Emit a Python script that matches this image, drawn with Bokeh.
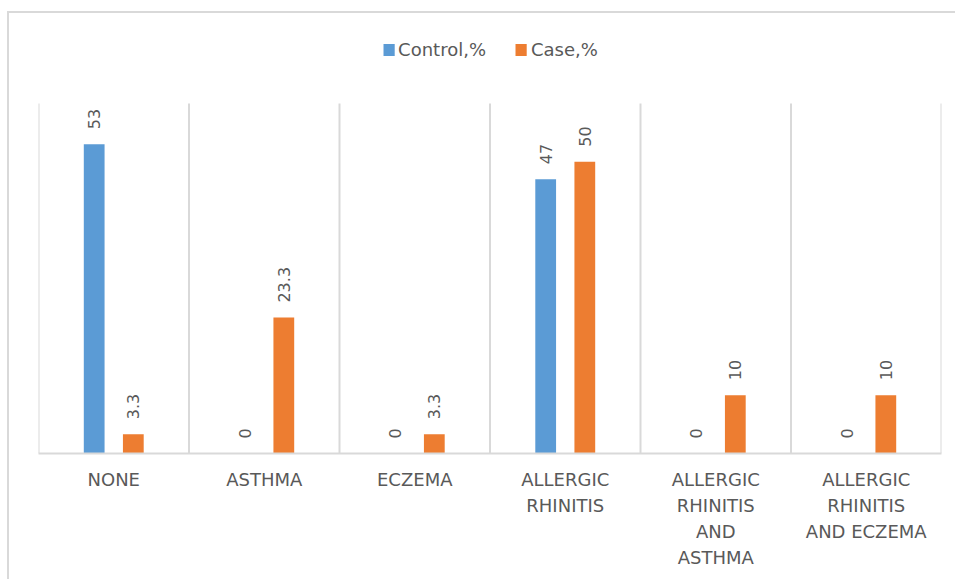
from bokeh.plotting import figure
from bokeh.models import FactorRange, Range1d, Legend, LegendItem, ColumnDataSource
from bokeh.transform import dodge
from bokeh.core.properties import value
from bokeh.embed import file_html
from bokeh.resources import INLINE
from math import pi

# ---- data ----
categories = ["NONE", "ASTHMA", "ECZEMA", "ALLERGIC\nRHINITIS",
              "ALLERGIC\nRHINITIS\nAND\nASTHMA", "ALLERGIC\nRHINITIS\nAND ECZEMA"]
control = [53, 0, 0, 47, 0, 0]
case = [3.3, 23.3, 3.3, 50, 10, 10]
series_names = ["Control,%", "Case,%"]
colors = ["#5B9BD5", "#ED7D31"]
value_max = 60          # top of the category separators (value axis)
y_view_max = 72.5       # extra room above for the legend

TEXT = "#595959"
GRID = "#D9D9D9"
FONT = "DejaVu Sans"

src = ColumnDataSource(dict(
    cat=categories,
    control=control,
    case=case,
    control_lbl=[f"{v:g}" for v in control],
    case_lbl=[f"{v:g}" for v in case],
))

p = figure(width=948, height=568, x_range=FactorRange(*categories), y_range=Range1d(0, y_view_max),
           output_backend="svg", toolbar_location=None,
           min_border_left=29, min_border_right=16, min_border_top=17, min_border_bottom=128)
p.outline_line_color = None
p.xgrid.grid_line_color = None
p.ygrid.grid_line_color = None
p.yaxis.visible = False
# outer chart border (top and left visible inside the window)
p.margin = (11, 0, 0, 7)
p.styles = {"border-top": f"2px solid {GRID}", "border-left": f"2px solid {GRID}"}

# category separators (between categories, on the synthetic categorical scale)
bounds = list(range(len(categories) + 1))
p.segment(x0=bounds, x1=bounds, y0=[0] * len(bounds), y1=[value_max] * len(bounds),
          line_color=GRID, line_width=2)

offset = 0.13
bw = 0.138
r1 = p.vbar(x=dodge("cat", -offset, range=p.x_range), top="control", width=bw, source=src,
            fill_color=colors[0], line_color=None)
r2 = p.vbar(x=dodge("cat", offset, range=p.x_range), top="case", width=bw, source=src,
            fill_color=colors[1], line_color=None)

for key, off in (("control", -offset), ("case", offset)):
    p.text(x=dodge("cat", off, range=p.x_range), y=key, text=key + "_lbl", source=src,
           angle=pi / 2, text_align="left", text_baseline="middle", y_offset=-15,
           text_font=value(FONT), text_font_size="16px", text_color=TEXT)

ax = p.xaxis[0]
ax.axis_line_color = GRID
ax.axis_line_width = 2
ax.major_tick_line_color = None
ax.minor_tick_line_color = None
ax.major_label_standoff = 9
ax.major_label_text_font = FONT
ax.major_label_text_font_size = "18px"
ax.major_label_text_color = TEXT
ax.major_label_text_line_height = 1.25

legend = Legend(items=[LegendItem(label=series_names[0], renderers=[r1]),
                       LegendItem(label=series_names[1], renderers=[r2])],
                orientation="horizontal", location="top_center",
                glyph_width=14, glyph_height=15, label_standoff=3, spacing=28,
                padding=0, margin=9, border_line_color=None, background_fill_alpha=0,
                label_text_font=FONT, label_text_font_size="18px", label_text_color=TEXT)
p.add_layout(legend)

open("out.html", "w").write(file_html(p, INLINE))
